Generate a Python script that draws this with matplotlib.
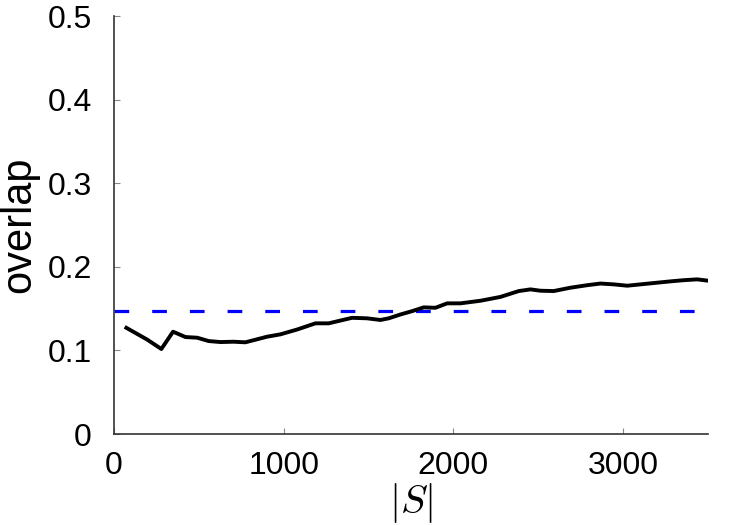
import matplotlib
matplotlib.use("Agg")
import matplotlib.pyplot as plt

plt.rcParams['font.family'] = ['Liberation Sans', 'DejaVu Sans']
plt.rcParams['mathtext.fontset'] = 'cm'

# |S| values and the measured overlap
set_size = [73, 195, 279, 348, 421, 490, 558, 627, 705, 774, 843, 902, 980,
            1079, 1187, 1265, 1403, 1491, 1570, 1619, 1688, 1757, 1825, 1894,
            1963, 2041, 2159, 2277, 2385, 2454, 2513, 2591, 2689, 2788, 2866,
            2945, 3024, 3102, 3200, 3279, 3357, 3436, 3500]
overlap = [0.127, 0.113, 0.1017, 0.1224, 0.116, 0.1152, 0.1112, 0.110, 0.1104,
           0.1097, 0.1133, 0.1164, 0.1192, 0.125, 0.1324, 0.1324, 0.139,
           0.1384, 0.1364, 0.1384, 0.143, 0.147, 0.1515, 0.151, 0.1563,
           0.1563, 0.1594, 0.164, 0.171, 0.173, 0.1714, 0.171, 0.175, 0.178,
           0.180, 0.179, 0.1774, 0.179, 0.181, 0.1826, 0.184, 0.185, 0.1834]

# baseline level (dashed)
baseline = 0.1475

x_ticks = [0, 1000, 2000, 3000]
y_ticks = [0, 0.1, 0.2, 0.3, 0.4, 0.5]
y_tick_labels = ["0", "0.1", "0.2", "0.3", "0.4", "0.5"]

fig = plt.figure(figsize=(7.5, 5.25), dpi=100)
ax = fig.add_axes([0.152, 0.1733, 0.792, 0.7962])

ax.axhline(baseline, color="#0000ff", linewidth=2.3,
           linestyle=(0, (4.6, 7.2)))
ax.plot(set_size, overlap, color="black", linewidth=2.8)

ax.set_xlim(0, 3500)
ax.set_ylim(0, 0.5)
ax.set_xticks(x_ticks)
ax.set_yticks(y_ticks)
ax.set_yticklabels(y_tick_labels)

for side in ["top", "right"]:
    ax.spines[side].set_visible(False)
for side in ["left", "bottom"]:
    ax.spines[side].set_color("#333333")
    ax.spines[side].set_linewidth(1.2)

ax.tick_params(direction="in", length=4, width=0.8, color="#888888",
               labelsize=23, labelcolor="black")
ax.tick_params(axis="y", pad=16)
ax.tick_params(axis="x", pad=12)

ax.set_ylabel("overlap", fontsize=30, labelpad=6)
ax.set_xlabel(r"$|S|$", fontsize=29, labelpad=0)

fig.savefig("out.png", dpi=100)
